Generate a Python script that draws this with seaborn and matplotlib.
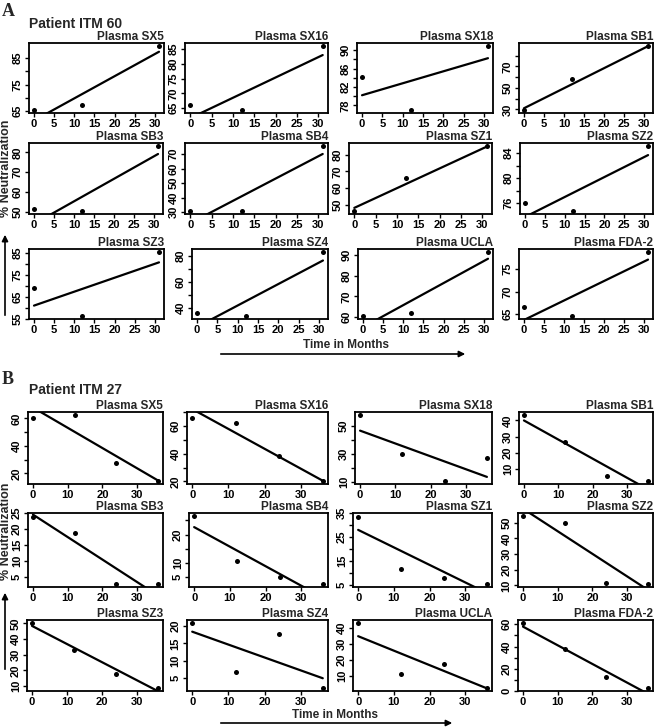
import numpy as np
import pandas as pd
import matplotlib
matplotlib.use("Agg")
import matplotlib.pyplot as plt
from matplotlib.patches import FancyArrowPatch
import seaborn as sns

sns.set_style("ticks")
plt.rcParams['font.family'] = ['Liberation Sans', 'DejaVu Sans']

# ---------------- data ----------------
plasmas = ["SX5", "SX16", "SX18", "SB1", "SB3", "SB4",
           "SZ1", "SZ2", "SZ3", "SZ4", "UCLA", "FDA-2"]

months_itm60 = [0, 12, 31]
months_itm27 = [0, 12, 24, 36]

# Patient ITM 60 (% neutralization at each month)
itm60_sx5 = [65.3, 67.5, 89.6]
itm60_sx16 = [66.1, 64.2, 86.2]
itm60_sx18 = [84.2, 76.9, 91.0]
itm60_sb1 = [29.0, 58.0, 89.5]
itm60_sb3 = [51.7, 50.3, 83.4]
itm60_sb4 = [30.5, 30.5, 75.9]
itm60_sz1 = [45.9, 65.9, 85.5]
itm60_sz2 = [76.0, 74.7, 85.2]
itm60_sz3 = [69.0, 56.5, 85.7]
itm60_sz4 = [36.1, 33.5, 83.4]
itm60_ucla = [60.3, 61.9, 91.6]
itm60_fda2 = [66.6, 64.5, 78.9]

# fitted trend lines (intercept, slope) for ITM 60
itm60_fit_intercept = [61.5, 61.6, 80.2, 31.0, 44.0, 22.4, 48.0, 73.8, 61.1, 25.4, 55.1, 63.7]
itm60_fit_slope = [0.832, 0.69, 0.26, 1.87, 1.135, 1.54, 1.19, 0.319, 0.635, 1.65, 1.066, 0.433]

# Patient ITM 27
itm27_sx5 = [60.7, 62.8, 27.4, 14.1]
itm27_sx16 = [65.9, 62.4, 38.4, 20.0]
itm27_sx18 = [57.7, 30.0, 10.5, 27.1]
itm27_sb1 = [43.6, 26.9, 5.4, 2.2]
itm27_sb3 = [23.9, 18.8, 2.6, 2.6]
itm27_sb4 = [26.6, 10.8, 5.0, 2.5]
itm27_sz1 = [33.2, 11.8, 8.0, 5.4]
itm27_sz2 = [54.4, 50.0, 11.8, 10.7]
itm27_sz3 = [50.4, 32.8, 17.4, 8.5]
itm27_sz4 = [21.0, 6.9, 17.6, 2.1]
itm27_ucla = [43.4, 11.1, 17.7, 2.2]
itm27_fda2 = [61.5, 38.0, 12.5, 2.4]

itm27_fit_intercept = [68.0, 72.1, 46.4, 40.0, 24.5, 22.6, 28.0, 58.9, 48.3, 18.4, 34.9, 57.9]
itm27_fit_slope = [-1.48, -1.433, -0.91, -1.19, -0.707, -0.688, -0.728, -1.44, -1.155, -0.372, -0.908, -1.68]

# tick positions / labels ('' = unlabeled tick)
itm60_yticks = [[65, 70, 75, 80, 85], [65, 70, 75, 80, 85], [78, 80, 82, 84, 86, 88, 90], [30, 40, 50, 60, 70, 80],
                [50, 60, 70, 80], [30, 40, 50, 60, 70], [50, 60, 70, 80], [76, 78, 80, 82, 84],
                [55, 60, 65, 70, 75, 80, 85], [40, 50, 60, 70, 80], [60, 70, 80, 90], [65, 70, 75]]
itm60_ylabels = [["65", "", "75", "", "85"], ["65", "70", "75", "80", "85"], ["78", "", "82", "", "86", "", "90"],
                 ["30", "", "50", "", "70", ""], ["50", "60", "70", "80"], ["30", "40", "50", "60", "70"],
                 ["50", "60", "70", "80"], ["76", "", "80", "", "84"], ["55", "", "65", "", "75", "", "85"],
                 ["40", "", "60", "", "80"], ["60", "70", "80", "90"], ["65", "70", "75"]]
itm27_yticks = [[20, 30, 40, 50, 60], [20, 30, 40, 50, 60, 70], [10, 20, 30, 40, 50], [10, 20, 30, 40],
                [5, 10, 15, 20, 25], [5, 10, 15, 20, 25], [5, 10, 15, 20, 25, 30, 35], [10, 20, 30, 40, 50],
                [10, 20, 30, 40, 50], [5, 10, 15, 20], [10, 20, 30, 40], [0, 10, 20, 30, 40, 50, 60]]
itm27_ylabels = [["20", "", "40", "", "60"], ["20", "", "40", "", "60", ""], ["10", "", "30", "", "50"],
                 ["10", "20", "30", "40"], ["5", "10", "15", "20", "25"], ["5", "10", "", "20", ""],
                 ["5", "", "15", "", "25", "", "35"], ["10", "20", "30", "40", "50"],
                 ["10", "20", "30", "40", "50"], ["5", "10", "15", "20"], ["10", "20", "30", "40"],
                 ["0", "", "20", "", "40", "", "60"]]
itm60_xticks = [0, 5, 10, 15, 20, 25, 30]
itm27_xticks = [0, 10, 20, 30]

itm60_series = [itm60_sx5, itm60_sx16, itm60_sx18, itm60_sb1, itm60_sb3, itm60_sb4,
                itm60_sz1, itm60_sz2, itm60_sz3, itm60_sz4, itm60_ucla, itm60_fda2]
itm27_series = [itm27_sx5, itm27_sx16, itm27_sx18, itm27_sb1, itm27_sb3, itm27_sb4,
                itm27_sz1, itm27_sz2, itm27_sz3, itm27_sz4, itm27_ucla, itm27_fda2]

# ---------------- layout (pixels) ----------------
W, H = 656, 727
fig = plt.figure(figsize=(W / 100, H / 100), dpi=100)

rows_a = [(43, 113), (143, 214), (249, 319)]
cols_a = [[(29, 164), (185, 328), (357, 493), (519, 653)],
          [(29, 163), (185, 328), (349, 492), (520, 653)],
          [(29, 164), (192, 328), (358, 493), (519, 653)]]
rows_b = [(412, 484), (513, 587), (620, 691)]
cols_b = [[(28, 163), (187, 328), (355, 492), (519, 653)],
          [(28, 163), (189, 328), (353, 492), (518, 653)],
          [(27, 163), (187, 328), (353, 492), (518, 653)]]


def px_axes(l, t, r, b):
    return fig.add_axes([l / W, 1 - b / H, (r - l) / W, (b - t) / H])


def fx(x):
    return x / W


def fy(y):
    return 1 - y / H


def draw(ax, months, vals, b0, b1, yt, yl, xt, name):
    df = pd.DataFrame({"month": months, "neut": vals})
    xs = np.linspace(min(months), max(months), 60)
    fit = pd.DataFrame({"month": xs, "neut": b0 + b1 * xs})
    sns.lineplot(data=fit, x="month", y="neut", ax=ax, color="black", lw=1.6, zorder=2)
    sns.scatterplot(data=df, x="month", y="neut", ax=ax, color="black", s=13,
                    linewidth=0, zorder=3)
    r = max(vals) - min(vals)
    ax.set_ylim(min(vals) - 0.04 * r, max(vals) + 0.04 * r)
    xr = max(months) - min(months)
    ax.set_xlim(min(months) - 0.04 * xr, max(months) + 0.04 * xr)
    ax.set_xticks(xt)
    ax.set_xticklabels([str(v) for v in xt], fontweight="bold", fontsize=8)
    ax.set_yticks(yt)
    ax.set_yticklabels(yl, rotation=90, va="center", fontweight="bold", fontsize=8)
    ax.set_xlabel("")
    ax.set_ylabel("")
    ax.tick_params(direction="out", length=3, width=1, pad=1.5, colors="black")
    for s in ax.spines.values():
        s.set_linewidth(1.3)
        s.set_color("black")
        s.set_visible(True)
    ax.set_title(f"Plasma {name}", loc="right", fontweight="bold", fontsize=8.5, pad=1.5)


for i in range(12):
    rr, cc = divmod(i, 4)
    t, b = rows_a[rr]
    l, r = cols_a[rr][cc]
    ax = px_axes(l, t, r, b)
    draw(ax, months_itm60, itm60_series[i], itm60_fit_intercept[i], itm60_fit_slope[i],
         itm60_yticks[i], itm60_ylabels[i], itm60_xticks, plasmas[i])

for i in range(12):
    rr, cc = divmod(i, 4)
    t, b = rows_b[rr]
    l, r = cols_b[rr][cc]
    ax = px_axes(l, t, r, b)
    draw(ax, months_itm27, itm27_series[i], itm27_fit_intercept[i], itm27_fit_slope[i],
         itm27_yticks[i], itm27_ylabels[i], itm27_xticks, plasmas[i])

# panel letters and patient titles
serif = ['Liberation Serif', 'DejaVu Serif']
fig.text(fx(2), fy(3), "A", family=serif, fontweight="bold", fontsize=13, va="top", ha="left")
fig.text(fx(2), fy(371), "B", family=serif, fontweight="bold", fontsize=13, va="top", ha="left")
fig.text(fx(29), fy(24), "Patient ITM 60", fontweight="bold", fontsize=10, va="center", ha="left")
fig.text(fx(29), fy(390), "Patient ITM 27", fontweight="bold", fontsize=10, va="center", ha="left")

# axis titles with arrows
for ybot, (a0, a1) in [(217, (318, 232)), (580, (672, 590))]:
    fig.text(fx(6), fy(ybot), "% Neutralization", rotation=90, fontweight="bold", fontsize=9,
             ha="center", va="bottom")
    fig.add_artist(FancyArrowPatch((fx(5), fy(a0)), (fx(5), fy(a1)), transform=fig.transFigure,
                                   arrowstyle="-|>", mutation_scale=9, lw=1.2, color="black"))

for ytxt, ycen_x, (x0, x1, ya) in [(345, 346, (218, 468, 354)), (715, 335, (218, 455, 723))]:
    fig.text(fx(ycen_x), fy(ytxt), "Time in Months", fontweight="bold", fontsize=8.5,
             ha="center", va="center")
    fig.add_artist(FancyArrowPatch((fx(x0), fy(ya)), (fx(x1), fy(ya)), transform=fig.transFigure,
                                   arrowstyle="-|>", mutation_scale=9, lw=1.2, color="black"))

fig.savefig("out.png", dpi=100)
